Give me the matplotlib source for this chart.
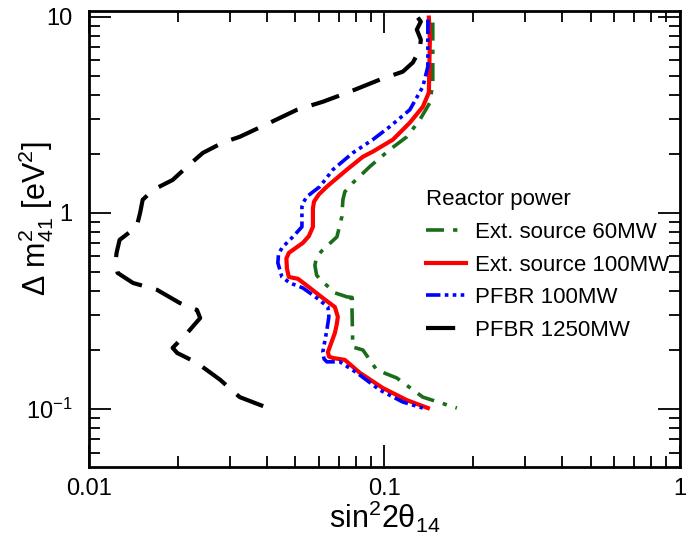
import numpy as np
import matplotlib
matplotlib.use("Agg")
import matplotlib.pyplot as plt
from matplotlib.ticker import FixedLocator, FixedFormatter, NullFormatter

plt.rcParams['font.family'] = ['Liberation Sans', 'DejaVu Sans']
plt.rcParams['mathtext.fontset'] = 'custom'
plt.rcParams['mathtext.rm'] = 'Liberation Sans'
plt.rcParams['mathtext.it'] = 'Liberation Sans'

# sin^2(2theta14), dm2_41 [eV^2]
ext60_x = [0.1459, 0.1459, 0.1426, 0.1319, 0.1192, 0.1044, 0.0893, 0.0782, 0.0735, 0.0724, 0.0718,
           0.0691, 0.0619, 0.0590, 0.0582, 0.0590, 0.0619, 0.0680, 0.0747, 0.0813, 0.0770, 0.0776,
           0.0782, 0.0846, 0.0943, 0.1102, 0.1350, 0.1760]
ext60_y = [9.32, 4.61, 3.64, 2.98, 2.44, 2.10, 1.72, 1.42, 1.28, 1.165, 0.954,
           0.754, 0.647, 0.600, 0.540, 0.480, 0.445, 0.391, 0.373, 0.368, 0.366, 0.36,
           0.207, 0.200, 0.158, 0.144, 0.115, 0.1012]

ext100_x = [0.1415, 0.1426, 0.1415, 0.1350, 0.1220, 0.1069, 0.0914, 0.0846, 0.0747, 0.0639,
            0.0600, 0.0578, 0.0573, 0.0573, 0.0555, 0.0530, 0.0475, 0.0466, 0.0468, 0.0475,
            0.0510, 0.0560, 0.0619, 0.0680, 0.0696, 0.0690, 0.0680, 0.0644, 0.0650, 0.0670,
            0.0735, 0.0826, 0.0988, 0.1192, 0.1404]
ext100_y = [9.88, 7.63, 4.10, 3.47, 2.88, 2.36, 2.05, 1.93, 1.66, 1.36,
            1.24, 1.14, 1.05, 0.848, 0.76, 0.703, 0.625, 0.585, 0.520, 0.471,
            0.461, 0.414, 0.368, 0.331, 0.295, 0.270, 0.244, 0.195, 0.185, 0.182,
            0.178, 0.153, 0.128, 0.111, 0.1012]

pfbr100_x = [0.1404, 0.1404, 0.1350, 0.1220, 0.1044, 0.0914, 0.0782, 0.0670, 0.0605, 0.0547,
             0.0530, 0.0526, 0.0526, 0.0490, 0.0450, 0.0438, 0.0436, 0.0450, 0.0479, 0.0530,
             0.0591, 0.0644, 0.0649, 0.0639, 0.0619, 0.0625, 0.0639, 0.0707, 0.0807, 0.0965,
             0.1155, 0.1350]
pfbr100_y = [9.65, 5.56, 4.39, 3.35, 2.75, 2.36, 2.02, 1.66, 1.36, 1.21,
             1.12, 1.073, 0.848, 0.754, 0.663, 0.610, 0.556, 0.471, 0.439, 0.414,
             0.368, 0.331, 0.295, 0.253, 0.195, 0.180, 0.174, 0.174, 0.153, 0.125,
             0.1086, 0.1012]

pfbr1250_x = [0.1298, 0.1329, 0.1288, 0.1329, 0.1319, 0.1249, 0.1155, 0.0965, 0.0764, 0.0619,
              0.0506, 0.0410, 0.0324, 0.0284, 0.0243, 0.0215, 0.0192, 0.0165, 0.0152, 0.0149,
              0.0145, 0.0127, 0.0124, 0.0123, 0.0125, 0.0141, 0.0170, 0.0203, 0.0232, 0.0238,
              0.0215, 0.0192, 0.0199, 0.0232, 0.0278, 0.0324, 0.0404]
pfbr1250_y = [9.88, 9.43, 8.58, 7.63, 6.79, 5.83, 5.24, 4.77, 4.14, 3.68,
              3.35, 2.88, 2.44, 2.28, 2.02, 1.72, 1.47, 1.31, 1.165, 1.0,
              0.848, 0.728, 0.625, 0.556, 0.494, 0.439, 0.405, 0.347, 0.320, 0.291,
              0.244, 0.205, 0.193, 0.172, 0.141, 0.115, 0.1012]

labels = ['Ext. source 60MW', 'Ext. source 100MW', 'PFBR 100MW', 'PFBR 1250MW']

fig = plt.figure(figsize=(6.95, 5.4), dpi=100)
ax = fig.add_axes([0.128, 0.135, 0.850, 0.845])

ax.plot(ext60_x, ext60_y, color='#1a6e1a', lw=2.6, dashes=(5, 2.5, 1.2, 2.5), label=labels[0])
ax.plot(ext100_x, ext100_y, color='red', lw=3, label=labels[1])
ax.plot(pfbr100_x, pfbr100_y, color='blue', lw=2.6,
        dashes=(4, 1.2, 1, 1.2, 1, 1.2, 1, 1.2), label=labels[2])
ax.plot(pfbr1250_x, pfbr1250_y, color='black', lw=3, dashes=(7, 3.5), label=labels[3])

ax.set_xscale('log')
ax.set_yscale('log')
ax.set_xlim(0.01, 1)
ax.set_ylim(0.0506, 10.7)

ax.xaxis.set_major_locator(FixedLocator([0.01, 0.1, 1]))
ax.xaxis.set_major_formatter(FixedFormatter(['0.01', '0.1', '1']))
ax.xaxis.set_minor_locator(FixedLocator([k * 0.01 for k in range(2, 10)] + [k * 0.1 for k in range(2, 10)]))
ax.xaxis.set_minor_formatter(NullFormatter())
ax.yaxis.set_major_locator(FixedLocator([0.1, 1, 10]))
ax.yaxis.set_major_formatter(FixedFormatter([r'$10^{-1}$', '1', '10']))
ax.yaxis.set_minor_locator(FixedLocator([k * 0.01 for k in range(6, 10)] + [k * 0.1 for k in range(2, 10)]
                                        + list(range(2, 10))))
ax.yaxis.set_minor_formatter(NullFormatter())

ax.tick_params(which='both', direction='in', top=True, right=True, width=1.3, labelsize=17)
ax.tick_params(which='major', length=16)
ax.tick_params(which='minor', length=8)
ax.tick_params(axis='x', which='major', pad=8)
ax.tick_params(axis='y', which='major', pad=12)
for s in ax.spines.values():
    s.set_linewidth(2)

ax.set_xlabel('sin$^2$2θ$_{14}$', fontsize=22)
ax.xaxis.set_label_coords(0.5, -0.07)
ax.set_ylabel(r'Δ m$^2_{41}$ [eV$^2$]', fontsize=22)
ax.yaxis.set_label_coords(-0.055, 0.545)

leg = ax.legend(title='Reactor power', loc='upper left', bbox_to_anchor=(0.555, 0.628),
                frameon=False, fontsize=16, title_fontsize=16, handlelength=1.8,
                handletextpad=0.4, labelspacing=0.52, borderaxespad=0)
leg._legend_box.align = 'left'

fig.savefig('out.png', dpi=100)
